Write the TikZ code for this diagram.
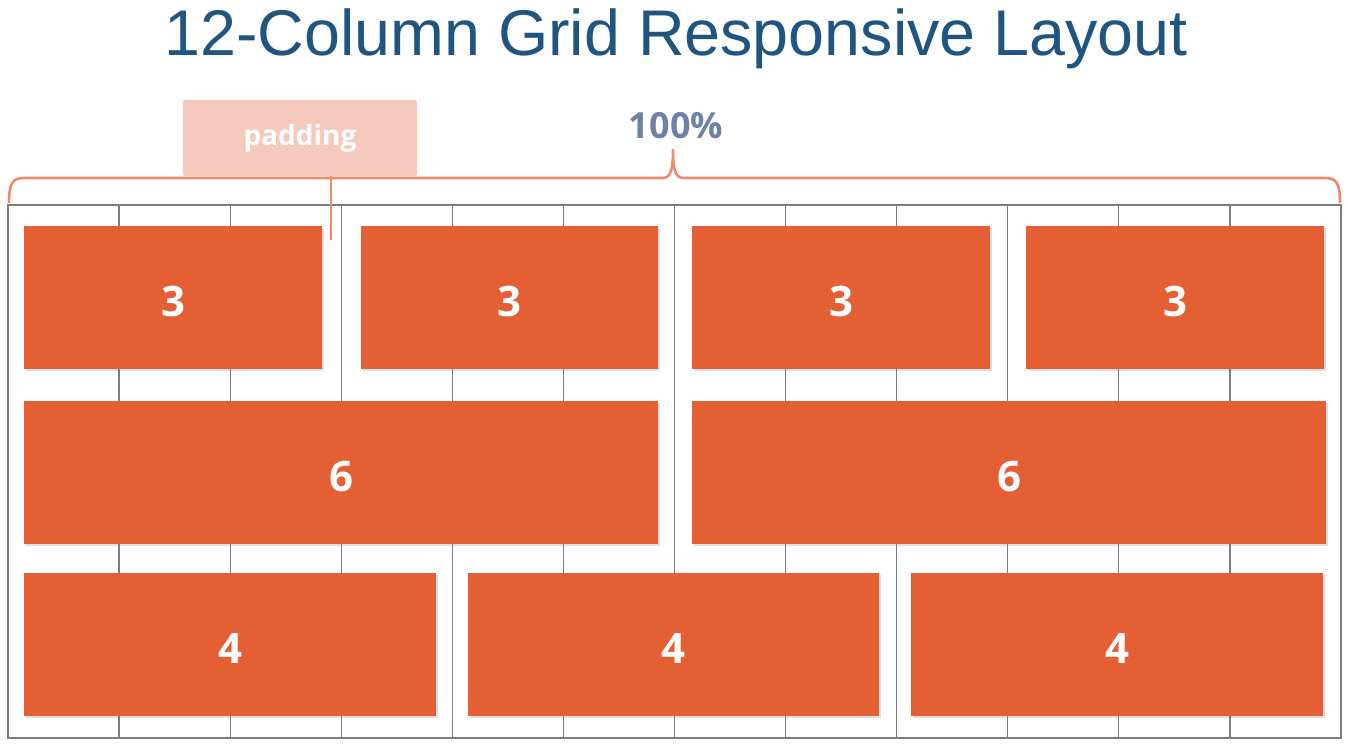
\documentclass[tikz,border=0pt]{standalone}
\usepackage{fontspec}
\setmainfont{Open Sans}
\newfontfamily\titlefont{Liberation Sans}
\usetikzlibrary{shadows}

\definecolor{gridorange}{RGB}{228,96,52}
\definecolor{bracesalmon}{RGB}{238,138,110}
\definecolor{padfill}{RGB}{246,201,189}
\definecolor{titleblue}{RGB}{31,85,128}
\definecolor{pctblue}{RGB}{110,130,166}
\definecolor{gridgray}{RGB}{125,125,125}

\tikzset{
    colbox/.style={fill=gridorange, text=white, minimum height=143pt, inner sep=0pt,
        text height=38pt, text depth=0pt,
        font=\fontsize{42}{42}\selectfont\bfseries,
        drop shadow={opacity=0.25, shadow xshift=1.5pt, shadow yshift=-1.5pt}},
}

\begin{document}
\begin{tikzpicture}[x=1pt, y=-1pt]
    \useasboundingbox (0,0) rectangle (1348,746);
    \fill[white] (0,0) rectangle (1348,746);

    \node[text=titleblue, font=\titlefont\fontsize{64.6}{64.6}\selectfont, anchor=base] (title) at (676,56) {12-Column Grid Responsive Layout};

    \draw[gridgray, line width=1.3pt] (8,205) rectangle (1341,738);
    \foreach \i in {1,...,11}
        \draw[gridgray, line width=1.3pt] (8+111.08*\i,205) -- (8+111.08*\i,738);

    \node[colbox, minimum width=298pt] (threeA) at (173,297.5) {3};
    \node[colbox, minimum width=297pt] (threeB) at (509.5,297.5) {3};
    \node[colbox, minimum width=298pt] (threeC) at (841,297.5) {3};
    \node[colbox, minimum width=298pt] (threeD) at (1175,297.5) {3};

    \node[colbox, minimum width=634pt] (sixA) at (341,472.5) {6};
    \node[colbox, minimum width=634pt] (sixB) at (1009,472.5) {6};

    \node[colbox, minimum width=412pt] (fourA) at (230,644.5) {4};
    \node[colbox, minimum width=411pt] (fourB) at (673.5,644.5) {4};
    \node[colbox, minimum width=412pt] (fourC) at (1117,644.5) {4};

    \draw[bracesalmon, line width=2.6pt, line join=round]
        (9,203) .. controls (9,184) and (12,178) .. (24,178) -- (662,178)
        .. controls (670,178) and (673,172) .. (673,150)
        .. controls (673,172) and (676,178) .. (684,178) -- (1325,178)
        .. controls (1337,178) and (1340,184) .. (1340,203);

    \node[fill=padfill, text=white, rounded corners=2pt, minimum width=234pt, minimum height=76pt, inner sep=0pt,
        font=\fontsize{28}{28}\selectfont\bfseries] (padding) at (300,138) {padding};
    \coordinate (padtip) at (331,240);
    \draw[bracesalmon, line width=2pt] (padding.south -| padtip) -- (padtip);

    \node[text=pctblue, font=\fontsize{36}{36}\selectfont\bfseries] (pct) at (676,126) {100\%};
\end{tikzpicture}
\end{document}
